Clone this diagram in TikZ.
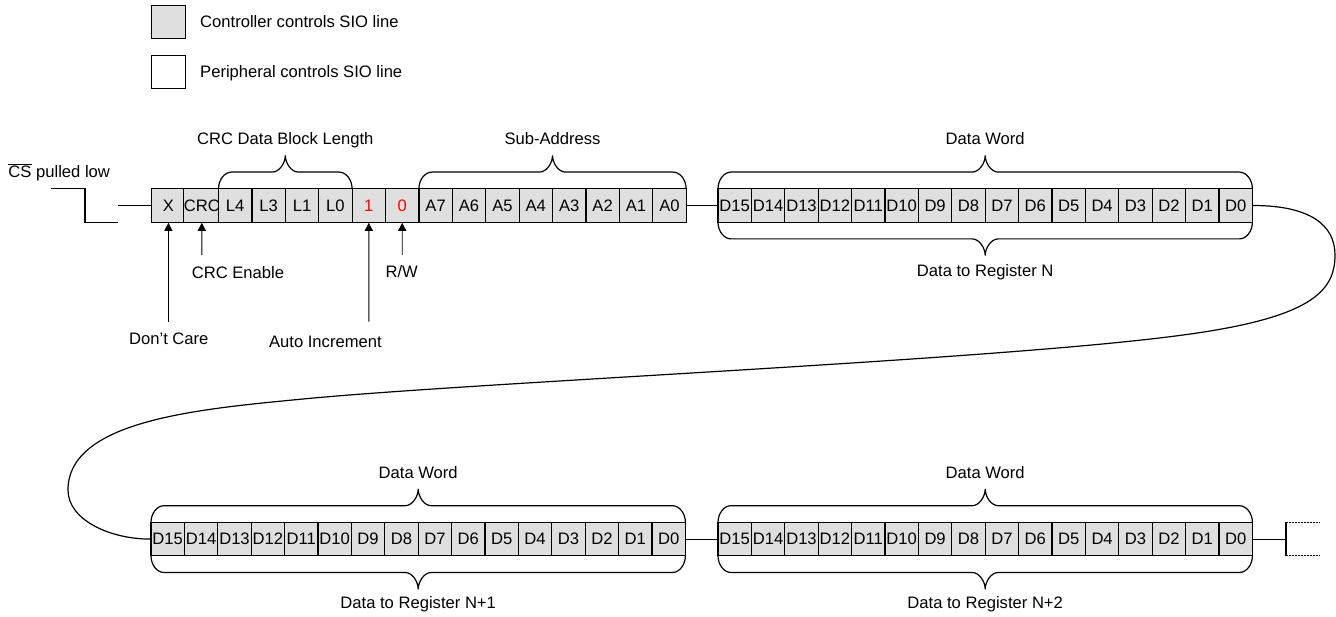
\documentclass[tikz,border=0pt]{standalone}
\usepackage{fontspec}
\setmainfont{Liberation Sans}
\usetikzlibrary{arrows.meta}
\definecolor{cellgray}{HTML}{DFDFDF}
\definecolor{bitred}{HTML}{FF0000}
\newcommand\mybrace[4]{% x0, x1, y edge, dir (-1 up, 1 down)
  \pgfmathsetmacro\bxm{(#1+#2)/2}
  \pgfmathsetmacro\byh{#3+#4*16.7}
  \pgfmathsetmacro\byt{#3+#4*33.4}
  \pgfmathsetmacro\byc{#3+#4*9}
  \pgfmathsetmacro\byd{#3+#4*25.7}
  \draw[brc] (#1,#3) .. controls (#1,\byc) and ({#1+6},\byh) .. ({#1+13},\byh)
    -- ({\bxm-13},\byh) .. controls ({\bxm-6},\byh) and (\bxm,\byd) .. (\bxm,\byt)
    .. controls (\bxm,\byd) and ({\bxm+6},\byh) .. ({\bxm+13},\byh)
    -- ({#2-13},\byh) .. controls ({#2-6},\byh) and (#2,\byc) .. (#2,#3);
}
\begin{document}
\begin{tikzpicture}[x=1pt,y=-1pt,
  every node/.style={font=\fontsize{16.6}{19}\selectfont, inner sep=0pt},
  cell/.style={draw, fill=cellgray, line width=1.2pt, minimum width=33.4pt, minimum height=33.4pt, inner sep=0pt},
  lbl/.style={anchor=base},
  brc/.style={line width=1.2pt},
  wire/.style={line width=1.2pt},
  dotwire/.style={line width=1pt, dash pattern=on 1.5pt off 1.5pt},
  arr/.style={line width=0.9pt, -{Triangle[width=8pt,length=8pt]}},
]
\useasboundingbox (0,0) rectangle (1336,617);

% legend
\node[cell] (lg1) at (168.4,21.9) {};
\node[cell, fill=white] (lg2) at (168.4,71.9) {};
\node[anchor=base west] (lgt1) at (200,27.6) {Controller controls SIO line};
\node[anchor=base west] (lgt2) at (200,77.6) {Peripheral controls SIO line};

% CS
\node[anchor=base west] (cs) at (8.3,177.5) {$\overline{\hbox{CS}}$ pulled low};
\coordinate (w0) at (51,188.8);
\coordinate (w1) at (85,188.8);
\coordinate (w2) at (85,222.2);
\coordinate (w3) at (118.3,222.2);
\coordinate (w4) at (118.3,205.5);
\draw[wire] (w0) -- (w1) -- (w2) -- (w3);

% row 1 command
\foreach \t [count=\i from 0] in {X,CRC,L4,L3,L1,L0,{\textcolor{bitred}{1}},{\textcolor{bitred}{0}},A7,A6,A5,A4,A3,A2,A1,A0}
  \node[cell] (r1c\i) at ({168.4+\i*33.4},205.5) {\t};
\draw[wire] (w4) -- (r1c0.west);

% data blocks
\foreach \t [count=\i from 0] in {D15,D14,D13,D12,D11,D10,D9,D8,D7,D6,D5,D4,D3,D2,D1,D0}{
  \node[cell] (d1c\i) at ({734.7+\i*33.4},205.5) {\t};
  \node[cell] (d2c\i) at ({167.7+\i*33.4},539.1) {\t};
  \node[cell] (d3c\i) at ({734.7+\i*33.4},539.1) {\t};
}
\draw[wire] (r1c15.east) -- (d1c0.west);
\draw[wire] (d2c15.east) -- (d3c0.west);

% braces
\mybrace{218.5}{352.1}{188.8}{-1}
\mybrace{418.9}{686.1}{188.8}{-1}
\mybrace{718}{1252.4}{188.8}{-1}
\mybrace{718}{1252.4}{222.2}{1}
\mybrace{151}{685.4}{522.4}{-1}
\mybrace{151}{685.4}{555.8}{1}
\mybrace{718}{1252.4}{522.4}{-1}
\mybrace{718}{1252.4}{555.8}{1}

\node[lbl] (tcrc) at (285.3,144.5) {CRC Data Block Length};
\node[lbl] (tsub) at (552.5,144.5) {Sub-Address};
\node[lbl] (tdw1) at (985.2,144.5) {Data Word};
\node[lbl] (tdr1) at (985.2,277) {Data to Register N};
\node[lbl] (tdw2) at (418.2,478) {Data Word};
\node[lbl] (tdw3) at (985.2,478) {Data Word};
\node[lbl] (tdr2) at (418.2,608.5) {Data to Register N+1};
\node[lbl] (tdr3) at (985.2,608.5) {Data to Register N+2};

% pointer labels
\node[lbl] (ldc) at (168.8,344.5) {Don’t Care};
\node[lbl] (lce) at (238,278.5) {CRC Enable};
\node[lbl] (lai) at (325.4,347.5) {Auto Increment};
\node[lbl] (lrw) at (401.7,277.5) {R/W};
\coordinate (a1) at (168.4,321.7);
\coordinate (a2) at (201.8,255);
\coordinate (a3) at (368.8,321.7);
\coordinate (a4) at (402.2,255);
\draw[arr] (a1) -- (r1c0.south);
\draw[arr] (a2) -- (r1c1.south);
\draw[arr] (a3) -- (r1c6.south);
\draw[arr] (a4) -- (r1c7.south);

% wrap-around curve
\coordinate (k1) at (1335,255);
\coordinate (k2) at (1183,335);
\coordinate (k3) at (303,399);
\coordinate (k4) at (68,490);
\draw[wire] (d1c15.east) .. controls (1310,205.5) and (1335,225) .. (k1)
  .. controls (1335,292) and (1310,318) .. (k2)
  .. controls (1000,360) and (480,382) .. (k3)
  .. controls (200,409) and (68,420) .. (k4)
  .. controls (68,520) and (110,539.1) .. (d2c0.west);

% continuation
\coordinate (ev) at (1286,539.1);
\coordinate (et) at (1286,522.4);
\coordinate (eb) at (1286,555.8);
\coordinate (etr) at (1320,522.4);
\coordinate (ebr) at (1320,555.8);
\draw[wire] (d3c15.east) -- (ev);
\draw[wire] (et) -- (eb);
\draw[dotwire] (et) -- (etr);
\draw[dotwire] (eb) -- (ebr);
\end{tikzpicture}
\end{document}
